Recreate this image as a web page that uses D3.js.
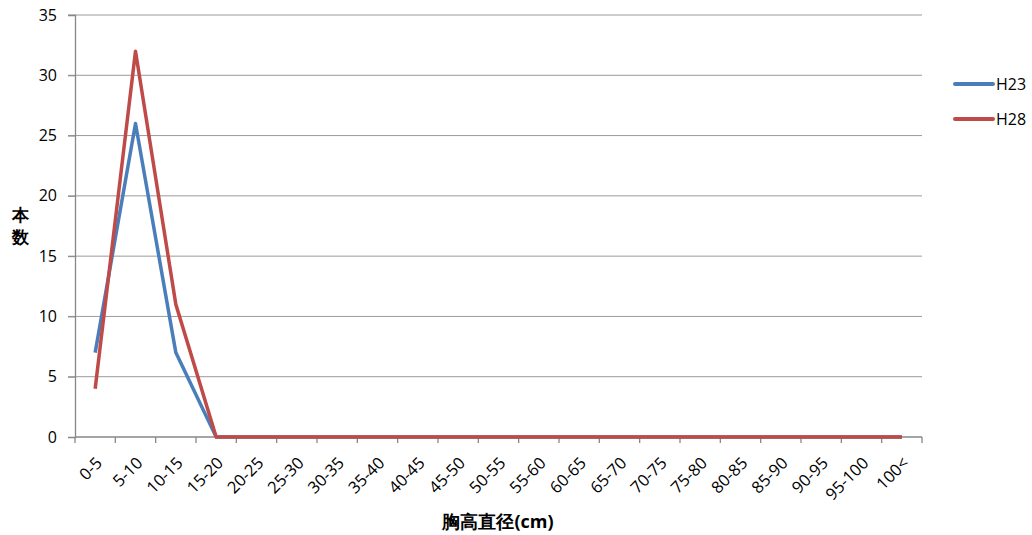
<!DOCTYPE html>
<html>
<head>
<meta charset="utf-8">
<script src="https://cdn.jsdelivr.net/npm/d3@7"></script>
<style>
  html, body { margin: 0; padding: 0; background: #fff; }
  svg { display: block; }
  text { font-family: "Open Sans", "DejaVu Sans", sans-serif; fill: #000; }
</style>
</head>
<body>
<svg id="chart" width="1032" height="535"></svg>
<script>
// Diameter classes (cm)
const categories = ["0-5","5-10","10-15","15-20","20-25","25-30","30-35","35-40","40-45","45-50",
  "50-55","55-60","60-65","65-70","70-75","75-80","80-85","85-90","90-95","95-100","100<"];
// Tree counts per class
const h23 = [7,26,7,0,0,0,0,0,0,0,0,0,0,0,0,0,0,0,0,0,0];
const h28 = [4,32,11,0,0,0,0,0,0,0,0,0,0,0,0,0,0,0,0,0,0];
const seriesNames = ["H23","H28"];
const seriesColors = ["#4A7EBB","#BE4B48"];
const yTicks = [0,5,10,15,20,25,30,35];

const svg = d3.select("#chart");
const plot = { left: 75, right: 922, top: 15, bottom: 437 };

const x = d3.scaleBand().domain(categories).range([plot.left, plot.right]).padding(0);
const y = d3.scaleLinear().domain([0, 35]).range([plot.bottom, plot.top]);

// Horizontal gridlines (extend left as tick marks)
svg.append("g").selectAll("line").data(yTicks.filter(d => d > 0)).join("line")
  .attr("x1", plot.left - 7).attr("x2", plot.right)
  .attr("y1", d => y(d)).attr("y2", d => y(d))
  .attr("stroke", "#9a9a9a").attr("stroke-width", 1);

// Y axis
const yAxis = svg.append("g").attr("transform", `translate(${plot.left},0)`)
  .call(d3.axisLeft(y).tickValues(yTicks).tickSize(7).tickPadding(11));
yAxis.select(".domain").attr("stroke", "#878787").attr("stroke-width", 1.3);
yAxis.selectAll(".tick line").attr("stroke", "#878787");
yAxis.selectAll("text").attr("font-size", 16).attr("font-family", "\"Open Sans\", sans-serif").attr("fill", "#000");

// X axis with tick marks at band edges
const xAxisG = svg.append("g").attr("transform", `translate(0,${plot.bottom})`);
xAxisG.append("line").attr("x1", plot.left).attr("x2", plot.right)
  .attr("stroke", "#878787").attr("stroke-width", 1.3);
const edges = categories.map(c => x(c)).concat([plot.right]);
xAxisG.selectAll("line.tk").data(edges).join("line").attr("class", "tk")
  .attr("x1", d => d).attr("x2", d => d).attr("y1", 0).attr("y2", 6)
  .attr("stroke", "#878787").attr("stroke-width", 1.3);
xAxisG.selectAll("text").data(categories).join("text")
  .attr("transform", d => `translate(${x(d) + x.bandwidth() / 2 + 4},${23}) rotate(-45)`)
  .attr("text-anchor", "end").attr("dy", "0.35em")
  .attr("font-size", 16.5)
  .text(d => d);

// Lines
const line = d3.line().x((d, i) => x(categories[i]) + x.bandwidth() / 2).y(d => y(d));
[h23, h28].forEach((s, i) => {
  svg.append("path").datum(s)
    .attr("d", line).attr("fill", "none")
    .attr("stroke", seriesColors[i]).attr("stroke-width", 3.5)
    .attr("stroke-linejoin", "round");
});

// Legend
const legend = svg.append("g");
seriesNames.forEach((n, i) => {
  const ly = 84 + i * 35;
  legend.append("line").attr("x1", 955).attr("x2", 993).attr("y1", ly).attr("y2", ly)
    .attr("stroke", seriesColors[i]).attr("stroke-width", 4).attr("stroke-linecap", "round");
  legend.append("text").attr("x", 996).attr("y", ly).attr("dy", "0.35em")
    .attr("font-size", 16).text(n);
});

// Axis titles
const ytitle = svg.append("text").attr("font-weight", "bold").attr("font-size", 17)
  .attr("font-family", "\"Noto Sans CJK JP\", sans-serif").attr("text-anchor", "middle");
ytitle.append("tspan").attr("x", 20).attr("y", 221).text("本");
ytitle.append("tspan").attr("x", 20).attr("y", 243).text("数");

svg.append("text").attr("x", 498).attr("y", 528)
  .attr("text-anchor", "middle").attr("font-weight", "bold").attr("font-size", 18)
  .attr("font-family", "\"Noto Sans CJK JP\", sans-serif")
  .text("胸高直径(cm)");
</script>
</body>
</html>
